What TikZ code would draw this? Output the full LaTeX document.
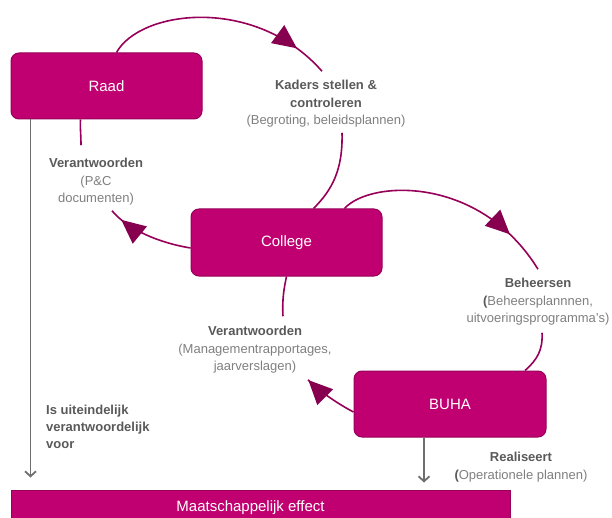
\documentclass[tikz,border=0pt]{standalone}
\usepackage{fontspec}
\setmainfont{Liberation Sans}
\usetikzlibrary{arrows.meta,decorations.markings}
\definecolor{boxfill}{RGB}{192,0,112}
\definecolor{boxline}{RGB}{150,0,90}
\definecolor{arcline}{RGB}{150,0,88}
\definecolor{tipfill}{RGB}{135,0,80}
\definecolor{lblbold}{RGB}{89,89,89}
\definecolor{lbltext}{RGB}{127,127,127}
\definecolor{downline}{RGB}{110,110,110}
\newcommand{\lblhead}[1]{\textcolor{lblbold}{\textbf{#1}}}
\tikzset{
  box/.style={draw=boxline, line width=1pt, fill=boxfill, rounded corners=8pt,
    minimum width=191pt, minimum height=66pt, text=white, font=\fontsize{15}{18}\selectfont},
  lbl/.style={align=center, inner sep=2pt, text=lbltext, font=\fontsize{13}{17.5}\selectfont},
  cycline/.style={draw=arcline, line width=1.6pt},
  tipat/.style={postaction={decorate}, decoration={markings,
    mark=at position #1 with {\arrow{Triangle[length=24pt,width=22pt,color=tipfill]}}}},
  effectline/.style={draw=downline, line width=1.8pt, -{Straight Barb[length=5pt,width=11pt]}}
}
\begin{document}
\begin{tikzpicture}[x=1pt,y=-1pt]
\clip (0,0) rectangle (612,518);
\node[box] (raad) at (106.5,86) {Raad};
\node[box, minimum height=67pt] (college) at (286.5,242.5) {College};
\node[box, minimum width=192pt] (buha) at (450,404) {BUHA};
\node[box, sharp corners, minimum width=499pt, minimum height=36pt] (effect) at (260.5,508) {Maatschappelijk effect\hspace*{20pt}};
\node[lbl] (kaders) at (326,104) {\lblhead{Kaders stellen \&}\\\lblhead{controleren}\\(Begroting, beleidsplannen)};
\node[lbl] (pcverant) at (96,182) {\lblhead{Verantwoorden}\\(P\&C\\documenten)};
\node[lbl] (beheer) at (538,302) {\lblhead{Beheersen}\\\lblhead{(}Beheersplannnen,\\uitvoeringsprogramma's)};
\node[lbl] (mgmt) at (255,350) {\lblhead{Verantwoorden}\\(Managementrapportages,\\jaarverslagen)};
\node[lbl] (realis) at (521,467) {\lblhead{Realiseert}\\\lblhead{(}Operationele plannen)};
\node[lbl, align=left, anchor=west, text=lblbold, font=\bfseries\fontsize{13}{17}\selectfont] (uiteind) at (44,427) {Is uiteindelijk\\verantwoordelijk\\voor};
\draw[cycline, tipat=-34pt] ([xshift=10pt]raad.north) .. controls (140,10) and (255,-5) .. ([xshift=-4pt,yshift=7pt]kaders.north);
\draw[cycline] ([xshift=16pt,yshift=-3pt]kaders.south) .. controls (343,170) and (332,190) .. ([xshift=27pt]college.north);
\draw[cycline, tipat=-45pt] ([xshift=58pt]college.north) .. controls (370,180) and (480,175) .. ([yshift=7pt]beheer.north);
\draw[cycline] ([xshift=4pt,yshift=-5pt]beheer.south) .. controls (543,350) and (537,360) .. ([xshift=75pt]buha.north);
\draw[cycline, tipat=-13pt] ([yshift=-5.5pt]college.west) .. controls (160,243) and (128,230) .. ([xshift=16pt,yshift=-3pt]pcverant.south);
\draw[cycline] ([xshift=-15pt,yshift=11pt]pcverant.north) .. controls (81,135) and (80,128) .. ([xshift=-26pt]raad.south);
\draw[cycline, tipat=-0.5pt] ([yshift=-8pt]buha.west) .. controls (340,405) and (320,392) .. ([xshift=53pt,yshift=-4pt]mgmt.south);
\draw[cycline] ([xshift=28pt,yshift=8pt]mgmt.north) .. controls (282,300) and (284,288) .. (college.south);
\coordinate (raadfoot) at ([xshift=20pt]raad.south west);
\draw[effectline, shorten >=12pt] (raadfoot) -- (raadfoot |- effect.north);
\coordinate (buhafoot) at ([xshift=-26pt]buha.south);
\draw[effectline, shorten >=7pt] (buhafoot) -- (buhafoot |- effect.north);
\end{tikzpicture}
\end{document}
